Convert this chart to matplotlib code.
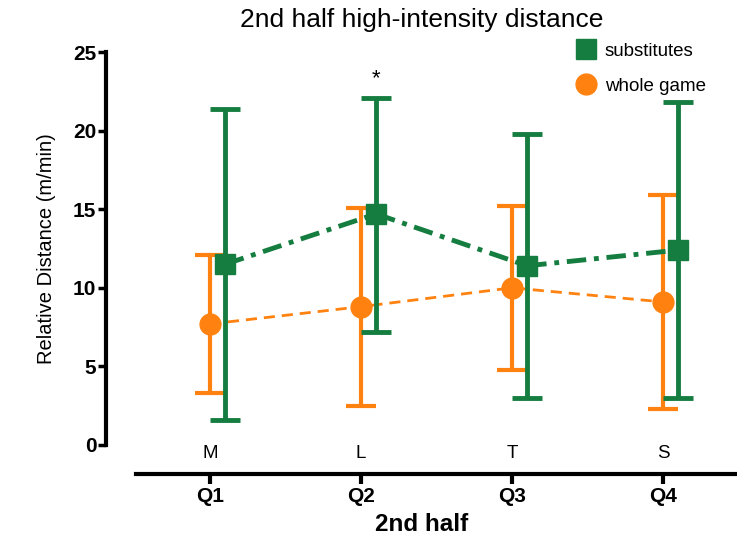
import numpy as np
import matplotlib
matplotlib.use("Agg")
import matplotlib.pyplot as plt

plt.rcParams['font.family'] = ['Liberation Sans', 'DejaVu Sans']

quarters = ['Q1', 'Q2', 'Q3', 'Q4']
letters = ['M', 'L', 'T', 'S']

sub_mean = [11.5, 14.7, 11.4, 12.4]
sub_low = [1.6, 7.2, 3.0, 3.0]
sub_high = [21.4, 22.1, 19.8, 21.8]

whole_mean = [7.7, 8.8, 10.0, 9.1]
whole_low = [3.3, 2.5, 4.8, 2.3]
whole_high = [12.1, 15.1, 15.2, 15.9]

GREEN = "#147d3f"
ORANGE = "#ff8210"

fig = plt.figure(figsize=(7.37, 5.36), dpi=100)
ax = fig.add_axes([106 / 737, 91 / 536, 631 / 737, 393 / 536])

x = np.arange(len(quarters))
xg = x + 0.1

# whole game
ax.errorbar(
    x, whole_mean,
    yerr=[np.array(whole_mean) - np.array(whole_low),
          np.array(whole_high) - np.array(whole_mean)],
    fmt="none", ecolor=ORANGE, elinewidth=3, capsize=11, capthick=3,
    zorder=2,
)
ax.plot(x, whole_mean, color=ORANGE, linestyle=(0, (4, 2.5)), linewidth=2,
        marker="o", markersize=15, zorder=3, label="whole game")

# substitutes
ax.errorbar(
    xg, sub_mean,
    yerr=[np.array(sub_mean) - np.array(sub_low),
          np.array(sub_high) - np.array(sub_mean)],
    fmt="none", ecolor=GREEN, elinewidth=3.5, capsize=11, capthick=3.5,
    zorder=4,
)
ax.plot(xg, sub_mean, color=GREEN, linestyle=(0, (4, 1.6, 1, 1.6)),
        linewidth=3.5, marker="s", markersize=15, zorder=5,
        label="substitutes")

ax.text(xg[1], 23.3, "*", ha="center", va="center", fontsize=16)

for xi, lab in zip(x, letters):
    ax.text(xi, -0.55, lab, ha="center", va="center", fontsize=13.5)

ax.set_xlim(-0.689, 3.49)
ax.set_ylim(0, 25)

ax.spines['top'].set_visible(False)
ax.spines['right'].set_visible(False)
ax.spines['left'].set_linewidth(3)
ax.spines['bottom'].set_linewidth(3)
ax.spines['bottom'].set_position(('outward', 21))
ax.spines['bottom'].set_bounds(-0.49, 3.49)

ax.set_yticks([0, 5, 10, 15, 20, 25])
ax.set_xticks(x)
ax.set_xticklabels(quarters, fontsize=15, fontweight="bold")
for lab in ax.get_yticklabels():
    lab.set_fontweight("bold")
    lab.set_fontsize(15)
ax.tick_params(axis="y", length=6, width=2.5, pad=1)
ax.tick_params(axis="x", length=7, width=3, pad=2)

ax.set_xlabel("2nd half", fontsize=17.5, fontweight="bold", labelpad=5)
ax.set_ylabel("Relative Distance (m/min)", fontsize=14.5, labelpad=12)
ax.set_title("2nd half high-intensity distance", fontsize=19, pad=18)

handles, labels = ax.get_legend_handles_labels()
ax.legend(handles[::-1], labels[::-1], loc="upper left",
          bbox_to_anchor=(560 / 737, 1 - 26 / 536),
          bbox_transform=fig.transFigure, frameon=False, fontsize=13.5,
          handlelength=1.0, labelspacing=0.95, handletextpad=0.5,
          markerscale=1.0)

fig.savefig("out.png", dpi=100)
